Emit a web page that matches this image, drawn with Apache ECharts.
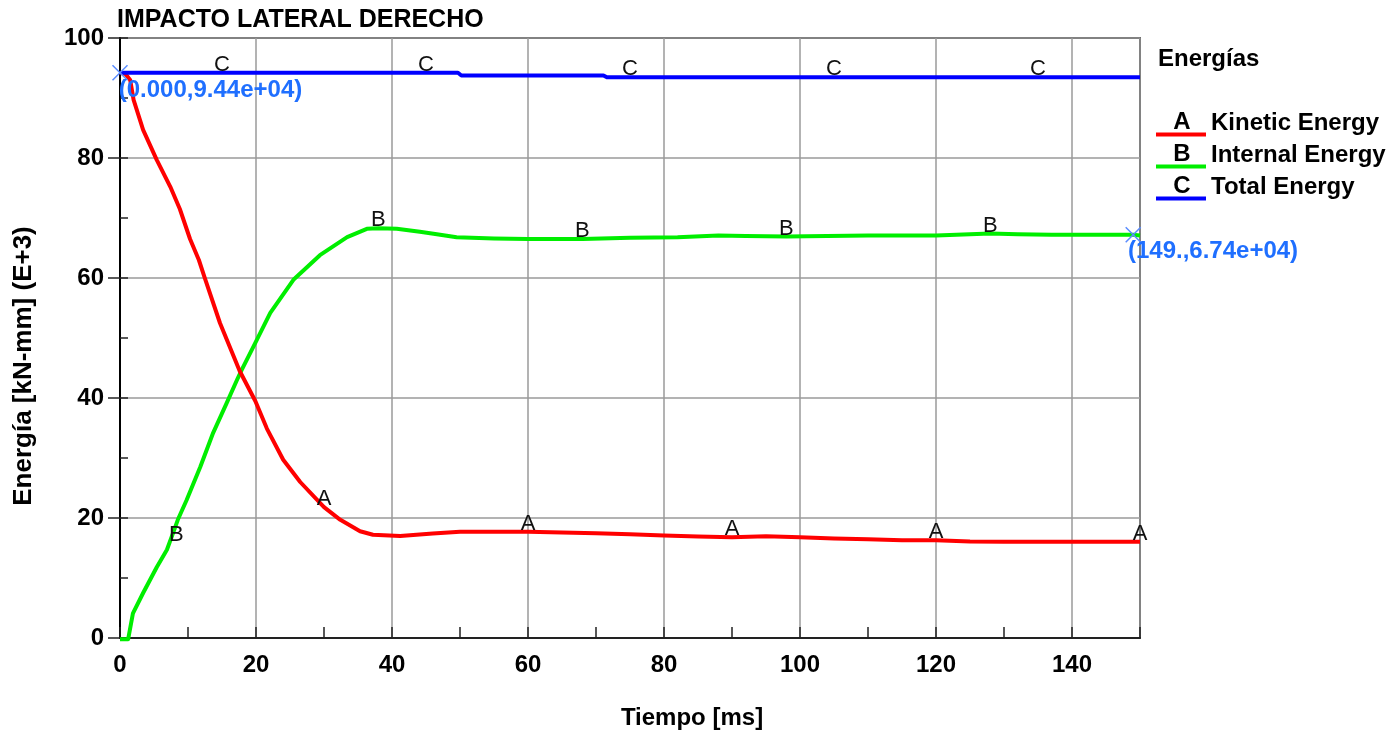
<!DOCTYPE html>
<html>
<head>
<meta charset="utf-8">
<title>IMPACTO LATERAL DERECHO</title>
<script src="https://cdn.jsdelivr.net/npm/echarts@6/dist/echarts.min.js"></script>
<style>
  html, body { margin: 0; padding: 0; background: #fff; }
  #chart { width: 1395px; height: 730px; }
</style>
</head>
<body>
<div id="chart"></div>
<script>
const kineticT = [0, 0.8, 1.5, 2, 3.4, 5.4, 7.4, 8.8, 10.3, 11.6, 12.5, 14.7, 17.6, 19.9, 21.6, 24, 26.5, 30, 32.4, 35.3,
  37.2, 41.2, 46, 50, 60, 65, 70, 75, 80, 85, 90, 95, 100, 105, 110, 115, 120, 125, 130, 140, 150]
const kineticE = [94.2, 94, 93, 89.7, 84.7, 79.7, 75.2, 71.5, 66.5, 63, 59.9, 52.5, 44.5, 39.5, 34.9, 29.7, 26, 21.8, 19.7, 17.8,
  17.2, 17.0, 17.4, 17.7, 17.7, 17.6, 17.45, 17.3, 17.1, 16.9, 16.8, 16.95, 16.8, 16.6, 16.45, 16.3, 16.3, 16.1, 16.05, 16.05, 16.05]

const internalT = [0, 1.2, 1.9, 3.4, 5.4, 6.9, 8, 8.5, 9.8, 11.8, 13.7, 15.7, 17.2, 17.9, 19.9, 22.1, 25.5, 29.4, 33.4, 36.3,
  38, 40.7, 44.1, 46.6, 49.5, 55, 60, 68, 75, 82, 88, 92, 98, 104, 110, 120, 128, 132, 137, 149, 150]
const internalE = [-0.2, -0.2, 4.1, 7.5, 11.8, 14.7, 18.1, 19.7, 23, 28.5, 34.2, 39.2, 43, 44.7, 49.2, 54.2, 59.7, 63.8, 66.8, 68.2,
  68.3, 68.2, 67.7, 67.3, 66.8, 66.6, 66.5, 66.5, 66.7, 66.8, 67.1, 67.0, 66.9, 67.0, 67.1, 67.1, 67.4, 67.3, 67.2, 67.2, 67.1]

const totalT = [0, 15, 45, 49.7, 50.2, 71.1, 71.6, 75, 105, 135, 150]
const totalE = [94.2, 94.2, 94.2, 94.2, 93.75, 93.75, 93.45, 93.45, 93.45, 93.45, 93.45]

// letras sobre las curvas
const kineticLabelT = [30, 60, 90, 120, 150]
const internalLabelT = [8, 38, 68, 98, 128]
const totalLabelT = [15, 45, 75, 105, 135]

const seriesNames = ['Kinetic Energy', 'Internal Energy', 'Total Energy']
const seriesLetters = ['A', 'B', 'C']
const seriesColors = ['#ff0000', '#00ee00', '#0000ff']

// puntos marcados
const probeT = [0, 149]
const probeText = ['(0.000,9.44e+04)', '(149.,6.74e+04)']

const xTicks = [0, 150]
const yTicks = [0, 100]

const fontFamily = "'Liberation Sans', Arial, sans-serif"
const boldText = { fontFamily, fontSize: 24, fontWeight: 'bold', color: '#000' }
const gridColor = '#9a9a9a'
const axisColor = '#222'
const probeColor = '#1f6fff'
const crossPath = 'path://M0,0L10,10M10,0L0,10'

function buildData(ts, es, labelTs, letter) {
  return ts.map((t, i) => {
    if (!labelTs.includes(t)) return [t, es[i]]
    // la B del inicio queda encima de la curva
    const onCurve = letter === 'B' && t === labelTs[0]
    return {
      value: [t, es[i]],
      label: {
        show: true,
        formatter: letter,
        position: onCurve ? 'inside' : 'top',
        offset: onCurve ? [2, 6] : [0, 0],
        distance: -3,
        fontFamily,
        fontSize: 22,
        color: '#111'
      }
    }
  })
}

function valueAt(ts, es, t) {
  return es[ts.indexOf(t)]
}

function probe(ts, es, t, text, pos) {
  return {
    symbol: crossPath,
    symbolSize: 15,
    itemStyle: { color: 'rgba(0,0,0,0)', borderColor: '#5a8cff', borderWidth: 1.5 },
    label: {
      show: true,
      formatter: text,
      position: pos,
      fontFamily,
      fontSize: 24,
      fontWeight: 'bold',
      color: probeColor
    },
    data: [{ coord: [t, valueAt(ts, es, t)] }]
  }
}

function lineSeries(idx, ts, es, labelTs, extra) {
  return Object.assign({
    name: seriesNames[idx],
    type: 'line',
    data: buildData(ts, es, labelTs, seriesLetters[idx]),
    color: seriesColors[idx],
    itemStyle: { color: seriesColors[idx] },
    lineStyle: { width: 4, color: seriesColors[idx], join: 'round' },
    symbol: 'circle',
    symbolSize: 0,
    showSymbol: true,
    showAllSymbol: true,
    smooth: false,
    clip: false,
    label: { show: false },
    emphasis: { disabled: true }
  }, extra || {})
}

const legendLeft = 1156
const legendTop = 109
const legendItemW = 50
const legendItemH = 28
const legendGap = 4

const option = {
  animation: false,
  backgroundColor: '#fff',
  title: [
    {
      text: 'IMPACTO LATERAL DERECHO',
      left: 117,
      top: 8,
      padding: 0,
      textStyle: Object.assign({}, boldText, { fontSize: 25 })
    },
    { text: 'Energías', left: 1158, top: 47, padding: 0, textStyle: boldText }
  ],
  legend: {
    orient: 'vertical',
    left: legendLeft,
    top: legendTop,
    padding: 0,
    itemWidth: legendItemW,
    itemHeight: legendItemH,
    itemGap: legendGap,
    selectedMode: false,
    icon: 'path://M0,0L50,0M0,23L50,23L50,27L0,27Z',
    data: seriesNames,
    textStyle: Object.assign({}, boldText, { lineHeight: 28 })
  },
  graphic: seriesLetters.map((letter, i) => ({
    type: 'text',
    x: legendLeft + legendItemW / 2 + 1,
    y: legendTop + i * (legendItemH + legendGap) + legendItemH / 2 - 1,
    style: {
      text: letter,
      font: 'bold 24px ' + fontFamily,
      fill: '#000',
      textAlign: 'center',
      textVerticalAlign: 'middle'
    }
  })),
  grid: {
    left: 120,
    top: 38,
    width: 1020,
    height: 600,
    outerBoundsMode: 'none',
    containLabel: false,
    show: true,
    borderColor: '#000',
    borderWidth: 1.5,
    backgroundColor: 'rgba(0,0,0,0)'
  },
  xAxis: [
    {
      type: 'value',
      min: xTicks[0],
      max: xTicks[1],
      interval: 10,
      position: 'bottom',
      name: 'Tiempo [ms]',
      nameLocation: 'middle',
      nameGap: 68,
      nameTextStyle: Object.assign({}, boldText, { padding: [0, 0, 0, 124] }),
      axisLine: { show: true, onZero: false, lineStyle: { color: axisColor, width: 2 } },
      axisTick: { inside: true, length: 11, lineStyle: { color: axisColor, width: 1.5 } },
      axisLabel: Object.assign({}, boldText, {
        margin: 15,
        formatter: v => (v % 20 === 0 ? String(v) : '')
      }),
      splitLine: { show: false }
    },
    {
      type: 'value',
      min: xTicks[0],
      max: xTicks[1],
      interval: 20,
      position: 'bottom',
      axisLine: { show: false },
      axisTick: { show: false },
      axisLabel: { show: false },
      splitLine: { show: true, lineStyle: { color: gridColor, width: 1.5 } }
    }
  ],
  yAxis: [
    {
      type: 'value',
      min: yTicks[0],
      max: yTicks[1],
      interval: 10,
      position: 'left',
      name: 'Energía [kN-mm] (E+3)',
      nameLocation: 'middle',
      nameGap: 83,
      nameTextStyle: Object.assign({}, boldText, { fontSize: 26, padding: [0, 56, 0, 0] }),
      axisLine: { show: true, onZero: false, lineStyle: { color: axisColor, width: 2 } },
      axisTick: { inside: true, length: 8, lineStyle: { color: axisColor, width: 1.5 } },
      axisLabel: Object.assign({}, boldText, {
        margin: 16,
        formatter: v => (v % 20 === 0 ? String(v) : '')
      }),
      splitLine: { show: false }
    },
    {
      type: 'value',
      min: yTicks[0],
      max: yTicks[1],
      interval: 20,
      position: 'left',
      axisLine: { show: false },
      axisTick: { show: true, inside: false, length: 12, lineStyle: { color: axisColor, width: 1.5 } },
      axisLabel: { show: false },
      splitLine: { show: true, lineStyle: { color: gridColor, width: 1.5 } }
    },
    {
      type: 'value',
      min: yTicks[0],
      max: yTicks[1],
      interval: 20,
      position: 'right',
      axisLine: { show: true, lineStyle: { color: '#000', width: 2 } },
      axisTick: { show: true, inside: true, length: 8, lineStyle: { color: axisColor, width: 1.5 } },
      axisLabel: { show: false },
      splitLine: { show: false }
    }
  ],
  series: [
    lineSeries(1, internalT, internalE, internalLabelT, {
      markPoint: probe(internalT, internalE, probeT[1], probeText[1], [3, 13])
    }),
    lineSeries(0, kineticT, kineticE, kineticLabelT),
    lineSeries(2, totalT, totalE, totalLabelT, {
      markPoint: probe(totalT, totalE, probeT[0], probeText[0], [7, 14])
    })
  ]
}

const chart = echarts.init(document.getElementById('chart'))
chart.setOption(option)
</script>
</body>
</html>
